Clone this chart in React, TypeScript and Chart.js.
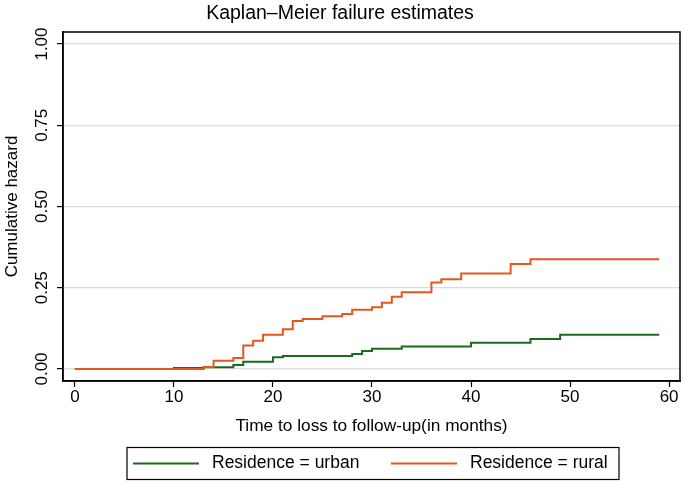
import React, { useEffect, useRef } from 'react';
import { Chart, registerables } from 'chart.js';

Chart.register(...registerables);

const chartTitle = 'Kaplan–Meier failure estimates';
const xAxisTitle = 'Time to loss to follow-up(in months)';
const yAxisTitle = 'Cumulative hazard';

const xTicks = [0, 10, 20, 30, 40, 50, 60];
const yTicks = [0, 0.25, 0.5, 0.75, 1];
const yTickLabels = ['0.00', '0.25', '0.50', '0.75', '1.00'];

const seriesLabels = ['Residence = urban', 'Residence = rural'];
const seriesColors = ['#1d6a1d', '#e4581f'];

const urbanTime = [0, 10, 13, 16, 17, 20, 21, 28, 29, 30, 33, 40, 46, 49, 59];
const urbanValue = [0, 0.003, 0.005, 0.012, 0.022, 0.036, 0.04, 0.046, 0.055, 0.062, 0.069, 0.081, 0.092, 0.105, 0.105];

const ruralTime = [0, 13, 14, 16, 17, 18, 19, 21, 22, 23, 25, 27, 28, 30, 31, 32, 33, 36, 37, 39, 44, 46, 59];
const ruralValue = [0, 0.006, 0.025, 0.034, 0.072, 0.087, 0.105, 0.122, 0.148, 0.154, 0.162, 0.169, 0.182, 0.19, 0.204, 0.222, 0.236, 0.266, 0.276, 0.294, 0.323, 0.338, 0.338];

const FONT = '"Liberation Sans", Arial, Helvetica, sans-serif';

const toPoints = (t: number[], v: number[]) => t.map((x, i) => ({ x, y: v[i] }));

const stataPlugin = {
  id: 'stataDecor',
  afterDraw(chart: any) {
    const { ctx, chartArea: a, scales } = chart;
    ctx.save();
    // plot frame
    ctx.strokeStyle = '#000';
    ctx.lineWidth = 1.5;
    ctx.strokeRect(a.left, a.top, a.right - a.left, a.bottom - a.top);

    // rotated y tick labels
    ctx.fillStyle = '#000';
    ctx.font = `17px ${FONT}`;
    ctx.textAlign = 'center';
    ctx.textBaseline = 'middle';
    const yScale = scales.y;
    yTicks.forEach((v, i) => {
      const py = yScale.getPixelForValue(v);
      ctx.save();
      ctx.translate(yScale.right - 20.5, py);
      ctx.rotate(-Math.PI / 2);
      ctx.fillText(yTickLabels[i], 0, 0);
      ctx.restore();
    });

    // legend box
    const boxW = 492;
    const boxH = 32;
    const bx = a.left + 64;
    const by = 447.5;
    ctx.lineWidth = 1.2;
    ctx.strokeStyle = '#000';
    ctx.strokeRect(bx, by, boxW, boxH);
    ctx.font = `17.5px ${FONT}`;
    ctx.textAlign = 'left';
    const midY = by + boxH / 2;
    const itemOffsets = [6, 264];
    seriesLabels.forEach((lab, i) => {
      const x0 = bx + itemOffsets[i];
      ctx.strokeStyle = seriesColors[i];
      ctx.lineWidth = 2;
      ctx.beginPath();
      ctx.moveTo(x0, midY);
      ctx.lineTo(x0 + 66, midY);
      ctx.stroke();
      ctx.fillStyle = '#000';
      ctx.fillText(lab, x0 + 79, midY);
    });
    ctx.restore();
  },
};

export default function App() {
  const ref = useRef<HTMLCanvasElement | null>(null);

  useEffect(() => {
    if (!ref.current) return;
    const chart = new Chart(ref.current, {
      type: 'line',
      data: {
        datasets: [
          {
            label: seriesLabels[1],
            data: toPoints(ruralTime, ruralValue),
            borderColor: seriesColors[1],
            borderWidth: 2,
            stepped: 'before',
            pointRadius: 0,
            fill: false,
          },
          {
            label: seriesLabels[0],
            data: toPoints(urbanTime, urbanValue),
            borderColor: seriesColors[0],
            borderWidth: 2,
            stepped: 'before',
            pointRadius: 0,
            fill: false,
          },
        ],
      },
      options: {
        responsive: false,
        animation: false,
        layout: { padding: { left: 0, right: 5, top: 0, bottom: 43 } },
        plugins: {
          legend: { display: false },
          tooltip: { enabled: false },
          title: {
            display: true,
            text: chartTitle,
            color: '#000',
            font: { family: FONT, size: 19.5, weight: 'normal', lineHeight: 1.2 },
            padding: { top: 2.3, bottom: 6.3 },
          },
        },
        scales: {
          x: {
            type: 'linear',
            min: -1.2,
            max: 61.1,
            afterBuildTicks: (s: any) => {
              s.ticks = xTicks.map((v) => ({ value: v }));
            },
            afterFit: (s: any) => {
              s.height = 60;
            },
            grid: {
              drawOnChartArea: false,
              drawTicks: true,
              tickLength: 6,
              tickColor: '#000',
              tickWidth: 1.2,
            },
            border: { display: true, color: '#000', width: 1.5 },
            ticks: {
              color: '#000',
              font: { family: FONT, size: 17, lineHeight: 1 },
              padding: 1.5,
              maxRotation: 0,
              autoSkip: false,
            },
            title: {
              display: true,
              text: xAxisTitle,
              color: '#000',
              font: { family: FONT, size: 17.3, lineHeight: 1.2 },
              padding: { top: 0, bottom: 4.6 },
            },
          },
          y: {
            type: 'linear',
            min: -0.037,
            max: 1.037,
            afterBuildTicks: (s: any) => {
              s.ticks = yTicks.map((v) => ({ value: v }));
            },
            afterFit: (s: any) => {
              s.width = 63;
            },
            grid: {
              drawOnChartArea: true,
              color: '#dcdcdc',
              lineWidth: 1.2,
              drawTicks: true,
              tickLength: 6,
              tickColor: '#000',
              tickWidth: 1.2,
            },
            border: { display: true, color: '#000', width: 1.5 },
            ticks: {
              color: 'rgba(0,0,0,0)',
              font: { family: FONT, size: 15 },
              autoSkip: false,
            },
            title: {
              display: true,
              text: yAxisTitle,
              color: '#000',
              font: { family: FONT, size: 17, lineHeight: 1.2 },
              padding: { top: 2.6, bottom: 0 },
            },
          },
        },
      },
      plugins: [stataPlugin],
    });
    return () => chart.destroy();
  }, []);

  return (
    <div style={{ position: 'absolute', left: 0, top: 0, width: 685, height: 484, background: '#fff' }}>
      <canvas ref={ref} width={685} height={484} style={{ width: 685, height: 484, display: 'block' }} />
    </div>
  );
}
